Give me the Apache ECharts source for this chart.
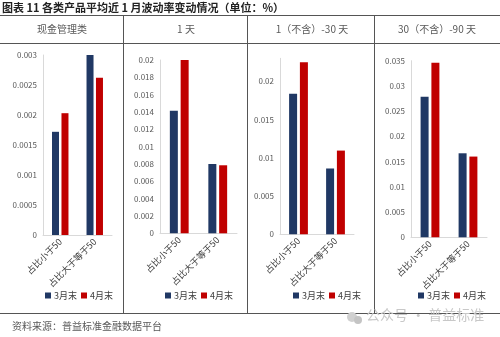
<!DOCTYPE html>
<html>
<head>
<meta charset="utf-8">
<script src="https://cdn.jsdelivr.net/npm/echarts@6/dist/echarts.min.js"></script>
<style>html,body{margin:0;padding:0;background:#fff;}#c{width:500px;height:337px;}</style>
</head>
<body>
<div id="c"></div>
<script>
var categories = ['占比小于50', '占比大于等于50'];
var panelTitles = ['现金管理类', '1 天', '1（不含）-30 天', '30（不含）-90 天'];
var seriesNames = ['3月末', '4月末'];
var marchValues = [0.00172, 0.01415, 0.01836, 0.02787];
var marchValues2 = [0.003, 0.0080, 0.0086, 0.01665];
var aprilValues = [0.00203, 0.0200, 0.02247, 0.0346];
var aprilValues2 = [0.00262, 0.00785, 0.01094, 0.0160];
var axisMax = [0.003, 0.02, 0.023, 0.035];
var axisInterval = [0.0005, 0.002, 0.005, 0.005];

var grids = [
  {left: 43, top: 55, width: 69, height: 180},
  {left: 160, top: 60, width: 77, height: 173.3},
  {left: 280, top: 58.3, width: 74, height: 176},
  {left: 411, top: 60.7, width: 76, height: 176.6}
];
var barW = [7, 8, 8, 8];
var legendX = [40, 160, 288, 413];
var headerX = [62, 186, 312, 437];
var blue = '#203864', red = '#C00000';
var font = '"Noto Sans CJK SC", "Noto Sans", sans-serif';

var option = {
  animation: false,
  backgroundColor: '#fff',
  grid: grids.map(function(g){ return Object.assign({containLabel:false}, g); }),
  xAxis: grids.map(function(g, i){ return {
    type: 'category', gridIndex: i, data: categories,
    axisLine: {lineStyle: {color: '#d9d9d9', width: 1}},
    axisTick: {show: false},
    axisLabel: {rotate: 45, fontSize: 9, color: '#404040', fontFamily: font, margin: 5, interval: 0}
  }; }),
  yAxis: grids.map(function(g, i){ return {
    type: 'value', gridIndex: i, min: 0, max: axisMax[i], interval: axisInterval[i],
    axisLine: {show: true, lineStyle: {color: '#d9d9d9', width: 1}},
    axisTick: {show: false},
    splitLine: {show: false},
    axisLabel: {fontSize: 8, color: '#595959', fontFamily: font, margin: 6, showMaxLabel: i !== 2,
      formatter: function(v){ return String(parseFloat(v.toPrecision(6))); }}
  }; }),
  legend: legendX.map(function(x){ return {
    data: seriesNames, left: x, top: 286, itemWidth: 6, itemHeight: 6, itemGap: 4,
    icon: 'rect', textStyle: {fontSize: 9, color: '#404040', fontFamily: font, padding: [0,0,0,-2]}
  }; }),
  series: [],
  graphic: []
};

for (var i = 0; i < 4; i++) {
  option.series.push({
    name: seriesNames[0], type: 'bar', xAxisIndex: i, yAxisIndex: i,
    data: [marchValues[i], marchValues2[i]], barWidth: barW[i], barGap: '35%',
    itemStyle: {color: blue}
  });
  option.series.push({
    name: seriesNames[1], type: 'bar', xAxisIndex: i, yAxisIndex: i,
    data: [aprilValues[i], aprilValues2[i]], barWidth: barW[i], barGap: '35%',
    itemStyle: {color: red}
  });
}

var lineStyle = {stroke: '#555', lineWidth: 1};
option.graphic.push(
  {type: 'text', left: 2, top: 2, style: {text: '图表 11 各类产品平均近 1 月波动率变动情况（单位：%）', font: 'bold 11px ' + font, fill: '#222'}},
  {type: 'line', shape: {x1: 0, y1: 15.5, x2: 500, y2: 15.5}, style: lineStyle},
  {type: 'line', shape: {x1: 0, y1: 43.5, x2: 500, y2: 43.5}, style: lineStyle},
  {type: 'line', shape: {x1: 0, y1: 313.5, x2: 500, y2: 313.5}, style: lineStyle},
  {type: 'line', shape: {x1: 123.5, y1: 15.5, x2: 123.5, y2: 313.5}, style: lineStyle},
  {type: 'line', shape: {x1: 247.5, y1: 15.5, x2: 247.5, y2: 313.5}, style: lineStyle},
  {type: 'line', shape: {x1: 374.5, y1: 15.5, x2: 374.5, y2: 313.5}, style: lineStyle},
  {type: 'text', left: 12, top: 321, style: {text: '资料来源：普益标准金融数据平台', font: '10px ' + font, fill: '#595959'}},
  {type: 'text', left: 366, top: 308, style: {text: '公众号 · 普益标准', font: '14px ' + font, fill: '#c8c8c8'}},
  {type: 'circle', shape: {cx: 352, cy: 317, r: 5}, style: {fill: '#d0d0d0'}},
  {type: 'circle', shape: {cx: 358, cy: 320, r: 4}, style: {fill: '#c4c4c4'}}
);
for (var k = 0; k < 4; k++) {
  option.graphic.push({type: 'text', x: headerX[k], y: 29, style: {text: panelTitles[k], font: '10px ' + font, fill: '#595959', align: 'center', verticalAlign: 'middle'}});
}

var chart = echarts.init(document.getElementById('c'), null, {renderer: 'canvas'});
chart.setOption(option);
</script>
</body>
</html>
